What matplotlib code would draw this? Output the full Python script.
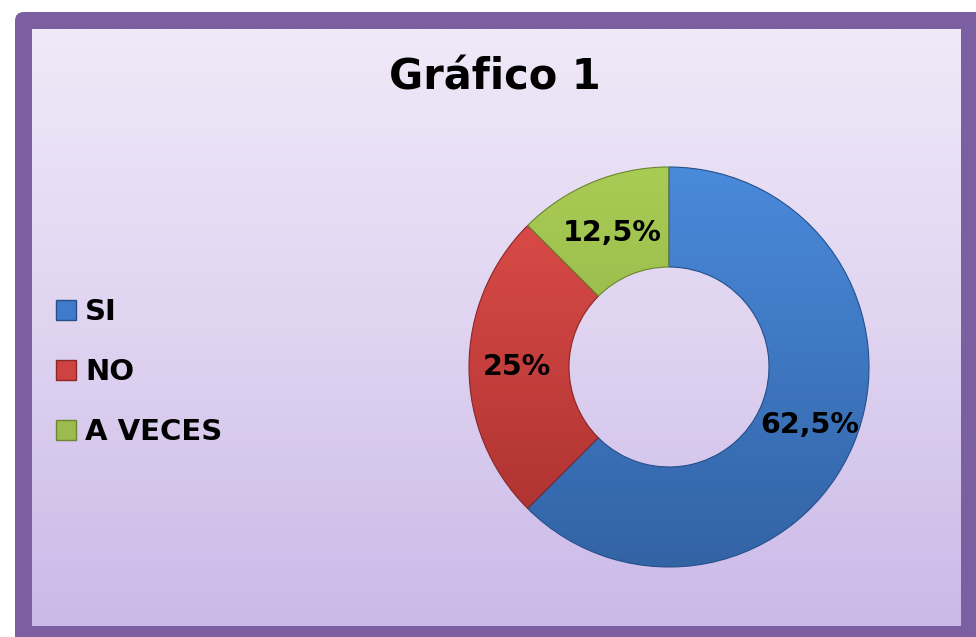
import numpy as np
import matplotlib
matplotlib.use("Agg")
import matplotlib.pyplot as plt
from matplotlib.patches import FancyBboxPatch, Patch
from matplotlib.colors import LinearSegmentedColormap

# ---- data ----
categories = ["SI", "NO", "A VECES"]
values = [62.5, 25.0, 12.5]
title = "Gráfico 1"

# ---- styles ----
colors_light = ["#4A8ADB", "#E04E4B", "#A9CC55"]
colors_dark = ["#3263A5", "#A8302E", "#84A23E"]
colors_mid = ["#3F7ACB", "#CC4341", "#9BBB4F"]
edge_colors = ["#24508A", "#8A2726", "#6B8530"]

W, H = 976, 637
fig = plt.figure(figsize=(W / 100, H / 100), dpi=100)
fig.patch.set_facecolor("white")

# background axes in pixel coordinates
bg = fig.add_axes([0, 0, 1, 1], zorder=0)
bg.set_xlim(0, W)
bg.set_ylim(H, 0)
bg.axis("off")
frame = FancyBboxPatch((15, 12), 1000, 700, boxstyle="round,pad=0,rounding_size=9",
                       facecolor="#7B5FA0", edgecolor="none")
bg.add_patch(frame)
grad = np.linspace(0, 1, 256).reshape(-1, 1)
bg_cmap = LinearSegmentedColormap.from_list("bg", ["#EFE9F8", "#E0D4F1", "#CBB9E8"])
bg.imshow(grad, cmap=bg_cmap, extent=(32, 961, 626, 29), aspect="auto", zorder=1)
bg.text(495, 78, title, ha="center", va="center", fontsize=30, fontweight="bold",
        family="DejaVu Sans", color="black", zorder=3)

# donut axes: center (669,367) px, radius 200 px
cx, cy, r = 669, 367, 200
ax = fig.add_axes([(cx - r) / W, (H - cy - r) / H, 2 * r / W, 2 * r / H], zorder=2)
ax.patch.set_alpha(0)


def fmt(p):
    s = f"{p:.1f}"
    if s.endswith(".0"):
        s = s[:-2]
    return s.replace(".", ",") + "%"


wedges, texts, autotexts = ax.pie(values, startangle=90, counterclock=False,
                                  colors=colors_mid, autopct=fmt, pctdistance=0.76,
                                  wedgeprops=dict(width=0.5, edgecolor="none"),
                                  textprops=dict(fontsize=20.5, fontweight="bold",
                                                 color="black"))
ax.set_xlim(-1, 1)
ax.set_ylim(-1, 1)
ax.set_aspect("equal")

# vertical gradient inside each wedge, clipped to the wedge
g = np.linspace(1, 0, 256).reshape(-1, 1)
for w, cl, cd, ce in zip(wedges, colors_light, colors_dark, edge_colors):
    cmap = LinearSegmentedColormap.from_list("w", [cd, cl])
    im = ax.imshow(g, cmap=cmap, extent=(-1, 1, -1, 1), aspect="auto", zorder=1.5)
    im.set_clip_path(w)
    w.set_edgecolor(ce)
    w.set_linewidth(0.8)
    w.set_zorder(1.6)
    w.set_facecolor("none")

for t in autotexts:
    t.set_zorder(5)
    t.set_family("DejaVu Sans")

# the small slice label sits near its upper edge (as in the original)
ang = np.deg2rad(113)
autotexts[2].set_position((0.73 * np.cos(ang), 0.73 * np.sin(ang)))

# legend
handles = [Patch(facecolor=cm, edgecolor=ce, linewidth=1)
           for cm, ce in zip(colors_mid, edge_colors)]
leg = fig.legend(handles, categories, loc="center left",
                 bbox_to_anchor=(56 / W, 1 - 372 / H), frameon=False,
                 prop=dict(size=21, weight="bold", family="DejaVu Sans"),
                 handlelength=0.7, handleheight=0.7, handletextpad=0.3,
                 labelspacing=1.1, borderaxespad=0, borderpad=0)

fig.savefig("out.png", dpi=100, facecolor="white")
